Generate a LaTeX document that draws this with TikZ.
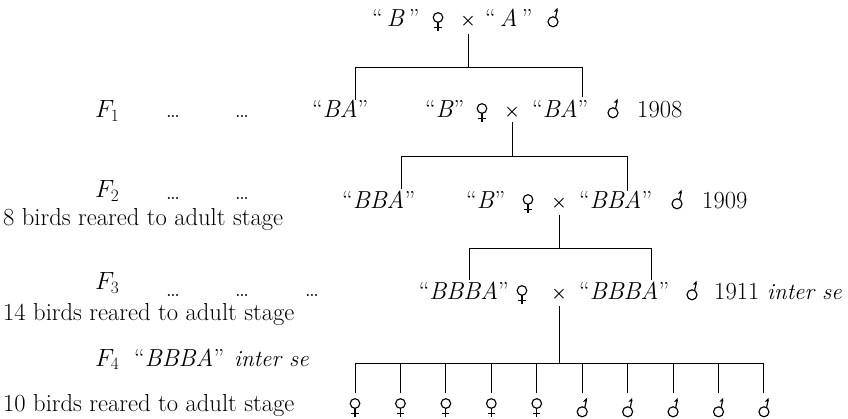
\documentclass[tikz,border=0pt]{standalone}
\usepackage{fontspec}
\begin{document}
\begin{tikzpicture}[x=1pt,y=-1pt,
  font=\fontsize{24.6}{28}\selectfont,
  txt/.style={inner sep=0pt,anchor=base west},
  txte/.style={inner sep=0pt,anchor=base east},
  ctr/.style={inner sep=0pt,anchor=base},
  isfont/.style={font=\fontsize{23}{26}\selectfont\itshape},
  ln/.style={line width=1pt},
  sym/.style={line width=1.15pt},
  fem/.pic={
    \draw[sym] (0,-9.5) circle[radius=4.8];
    \draw[sym] (0,-4.7) -- (0,4);
    \draw[sym] (-3.6,0.8) -- (3.6,0.8);
  },
  mal/.pic={
    \draw[sym] (0,-5.2) circle[radius=5];
    \draw[sym] (2.6,-9.5) -- (4.2,-17);
    \fill (4.6,-19.2) -- (0.9,-15.4) -- (4.6,-15.6) -- cycle;
  }]
\useasboundingbox (0,0) rectangle (848,419);
\newcommand{\crs}{{\fontsize{19}{20}\selectfont\boldmath$\times$}}

% Row 0
\node[txt] (r0a) at (372,27) {``\,\textit{B}\,''};
\pic at (438,27) {fem};
\node[ctr] (r0x) at (468,26) {\crs};
\node[txt] (r0b) at (485,27) {``\,\textit{A}\,''};
\pic at (553,27) {mal};

% Row 1
\node[txt] (f1) at (95,118) {$F_1$};
\node[ctr] (d1a) at (173,118) {\dots};
\node[ctr] (d1b) at (242,118) {\dots};
\node[txt] (r1c) at (312,118) {``\textit{BA}''};
\node[txt] (r1a) at (425,118) {``\textit{B}''};
\pic at (482,118) {fem};
\node[ctr] (r1x) at (512,117) {\crs};
\node[txt] (r1b) at (532,118) {``\textit{BA}''};
\pic at (613,118) {mal};
\node[txt] (r1y) at (637,118) {1908};

% Row 2
\node[txt] (f2) at (95,198) {$F_2$};
\node[ctr] (d2a) at (173,200) {\dots};
\node[ctr] (d2b) at (242,200) {\dots};
\node[txt] (n2) at (3,226) {8 birds reared to adult stage};
\node[txt] (r2c) at (342,209) {``\textit{BBA}''};
\node[txt] (r2a) at (466,209) {``\textit{B}''};
\pic at (528,209) {fem};
\node[ctr] (r2x) at (559,208) {\crs};
\node[txt] (r2b) at (579,209) {``\textit{BBA}''};
\pic at (677,209) {mal};
\node[txt] (r2y) at (702,209) {1909};

% Row 3
\node[txt] (f3) at (95,290) {$F_3$};
\node[ctr] (d3a) at (173,297) {\dots};
\node[ctr] (d3b) at (242,297) {\dots};
\node[ctr] (d3c) at (312,297) {\dots};
\node[txt] (n3) at (3,320) {14 birds reared to adult stage};
\node[txte] (r3a) at (509,300) {``\textit{BBBA}''};
\pic at (522,300) {fem};
\node[ctr] (r3x) at (559,299) {\crs};
\node[txt] (r3b) at (579,300) {``\textit{BBBA}''};
\pic at (692,300) {mal};
\node[txt] (r3y) at (714,300) {1911};
\node[txt,isfont] (r3i) at (767,300) {inter se};

% Row 4
\node[txt] (f4) at (95,366) {$F_4$};
\node[txt] (f4t) at (134,366) {``\textit{BBBA}''};
\node[txt,isfont] (f4i) at (234,366) {inter se};
\node[txt] (n4) at (3,411) {10 birds reared to adult stage};

% Connectors
\coordinate (b0l) at (355,100);
\coordinate (b0r) at (582,97);
\draw[ln] ([yshift=-8pt]r0x.base) -- (r0x.base |- 0,68);
\draw[ln] (b0l) |- (b0r |- 0,68) -- (b0r);

\coordinate (b1l) at (401,189);
\coordinate (b1r) at (627,191);
\draw[ln] ([yshift=-5pt]r1x.base) -- (r1x.base |- 0,157);
\draw[ln] (b1l) |- (b1r |- 0,157) -- (b1r);

\coordinate (b2l) at (469,280);
\coordinate (b2r) at (651,280);
\draw[ln] ([yshift=-7pt]r2x.base) -- (r2x.base |- 0,249);
\draw[ln] (b2l) |- (b2r |- 0,249) -- (b2r);

\coordinate (h3) at (r3x.base |- 0,363);
\draw[ln] ([yshift=-7pt]r3x.base) -- (h3);
\draw[ln] (355,363) -- (764,363);
\foreach \i in {0,...,9} {
  \pgfmathsetmacro{\xx}{355+45.44*\i}
  \coordinate (t\i) at (\xx,393);
  \draw[ln] (\xx,363) -- (t\i);
  \ifnum\i<5
    \pic at (\xx,413) {fem};
  \else
    \pic at (\xx,417) {mal};
  \fi
}
\end{tikzpicture}
\end{document}
